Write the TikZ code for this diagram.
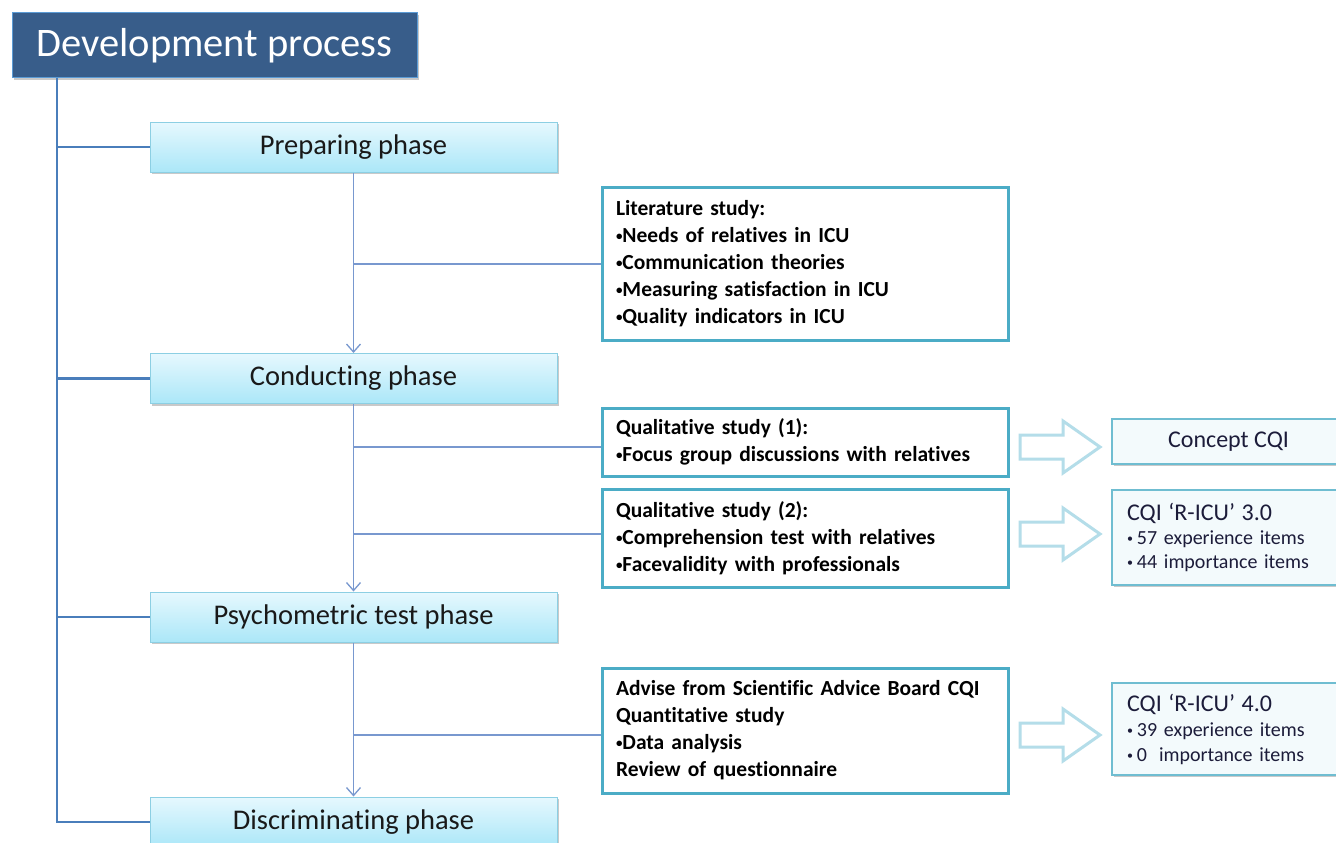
\documentclass[tikz,border=0pt]{standalone}
\usepackage{fontspec}
\setmainfont[Ligatures={NoCommon}]{Carlito}
\usetikzlibrary{arrows.meta,shadows}
\definecolor{titlefill}{HTML}{385D8A}
\definecolor{titleedge}{HTML}{5B9BD5}
\definecolor{phasetop}{HTML}{E6F8FE}
\definecolor{phasebot}{HTML}{ABE7F8}
\definecolor{phaseedge}{HTML}{8CCFE3}
\definecolor{teal}{HTML}{4BACC6}
\definecolor{treeblue}{HTML}{4A7EBB}
\definecolor{flowblue}{HTML}{7898CF}
\definecolor{hollow}{HTML}{B4DDE9}
\definecolor{resfill}{HTML}{F3FAFC}
\definecolor{restext}{HTML}{1C1C3A}
\newcommand\smbul{\raisebox{2.2pt}{\fontsize{13}{13}\selectfont•}}
\newcommand\rbul{\raisebox{1.8pt}{\fontsize{12}{12}\selectfont•}\hspace{4pt}}
\newcommand\studyfont{\fontsize{21.5}{27}\selectfont\bfseries\spaceskip=2.6pt plus 1pt minus 0.5pt\relax}
\tikzset{
  x=1pt,y=-1pt,
  shd/.style={drop shadow={shadow xshift=1.5pt,shadow yshift=-2pt,opacity=0.35,fill=black!60}},
  titlebox/.style={shd,fill=titlefill,draw=titleedge,line width=1pt,text=white,
    font=\fontsize{40.5}{44}\selectfont,inner sep=0pt},
  phasebox/.style={shd,top color=phasetop,bottom color=phasebot,draw=phaseedge,line width=1pt,
    minimum width=407,minimum height=50,inner sep=0pt,font=\fontsize{28.5}{30}\selectfont,text=black!90},
  studybox/.style={draw=teal,line width=3pt,fill=white,minimum width=406,inner sep=0pt,
    text width=378,align=left,font=\studyfont},
  resbox/.style={shd,fill=resfill,draw=teal!80,line width=1.3pt,minimum width=233,inner sep=0pt,
    text=restext},
  tree/.style={draw=treeblue,line width=2.2pt},
  flow/.style={draw=flowblue,line width=1.3pt},
  flowarr/.style={flow,-{Straight Barb[length=8pt,width=14pt,line width=1.3pt]}},
  hollowarr/.style={draw=hollow,line width=3pt,fill=white,line join=miter},
}
\begin{document}
\begin{tikzpicture}
\useasboundingbox (0,0) rectangle (1336,843);
\clip (0,0) rectangle (1336,843);
\fill[white] (0,0) rectangle (1336,843);

% title and phases
\node[titlebox,minimum width=405,minimum height=65] (title) at (214.5,45.5) {Development process};
\node[phasebox] (prep) at (353.5,147) {Preparing phase};
\node[phasebox] (cond) at (353.5,378.5) {Conducting phase};
\node[phasebox] (psy) at (353.5,617) {Psychometric test phase};
\node[phasebox] (disc) at (353.5,822) {Discriminating phase};

% study boxes
\node[studybox,minimum height=153] (lit) at (805,263.5) {Literature study:\\
\smbul Needs of relatives in ICU\\
\smbul Communication theories\\
\smbul Measuring satisfaction in ICU\\
\smbul Quality indicators in ICU};
\node[studybox,minimum height=68] (q1) at (805,442) {Qualitative study (1):\\
\smbul Focus group discussions with relatives};
\node[studybox,minimum height=98] (q2) at (805,538) {Qualitative study (2):\\
\smbul Comprehension test with relatives\\
\smbul Facevalidity with professionals};
\node[studybox,minimum height=125] (adv) at (805,730.5) {Advise from Scientific Advice Board CQI\\
Quantitative study\\
\smbul Data analysis\\
Review of questionnaire};

% result boxes
\node[resbox,minimum height=45,font=\fontsize{24}{26}\selectfont] (concept) at (1228.5,441.5) {Concept CQI};
\node[resbox,minimum height=95,text width=203,align=left,font=\fontsize{20}{24}\selectfont] (r3) at (1228.5,537.5)
  {{\fontsize{24}{27}\selectfont CQI ‘R-ICU’ 3.0}\\
  \rbul 57 experience items\\
  \rbul 44 importance items};
\node[resbox,minimum height=92,text width=203,align=left,font=\fontsize{20}{25}\selectfont] (r4) at (1228.5,729)
  {{\fontsize{24}{27}\selectfont CQI ‘R-ICU’ 4.0}\\
  \rbul 39 experience items\\
  \rbul 0\hspace{12pt}importance items};

% tree on the left
\coordinate (t0) at (57,0 |- title.south);
\draw[tree] (t0) |- (disc.west);
\draw[tree] (t0 |- prep.west) -- (prep.west);
\draw[tree] (t0 |- cond.west) -- (cond.west);
\draw[tree] (t0 |- psy.west) -- (psy.west);

% flow between phases
\draw[flowarr] (prep.south) -- (cond.north);
\draw[flowarr] (cond.south) -- (psy.north);
\draw[flowarr] (psy.south) -- (disc.north);

% branches to study boxes
\coordinate (b1) at (0,264);
\coordinate (b2) at (0,447);
\coordinate (b3) at (0,534);
\coordinate (b4) at (0,735);
\draw[flow] (prep.south |- b1) -- (lit.west |- b1);
\draw[flow] (cond.south |- b2) -- (q1.west |- b2);
\draw[flow] (cond.south |- b3) -- (q2.west |- b3);
\draw[flow] (psy.south |- b4) -- (adv.west |- b4);

% hollow arrows
\foreach \yy in {447,534,735}{
  \draw[hollowarr] (1020,\yy-12) -- (1063,\yy-12) -- (1063,\yy-26) -- (1100,\yy)
    -- (1063,\yy+26) -- (1063,\yy+12) -- (1020,\yy+12) -- cycle;
}
\end{tikzpicture}
\end{document}
